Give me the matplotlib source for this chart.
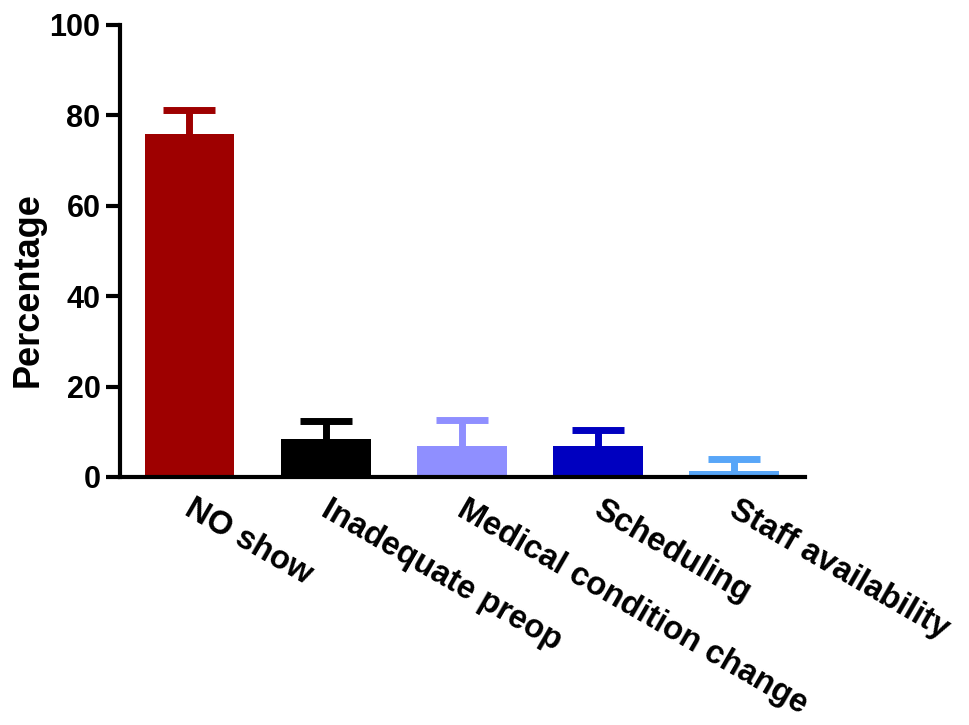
import matplotlib
matplotlib.use('Agg')
import matplotlib.pyplot as plt
import numpy as np

plt.rcParams['font.family'] = ['Liberation Sans', 'DejaVu Sans']
plt.rcParams['font.weight'] = 'bold'

# data
categories = ['NO show', 'Inadequate preop', 'Medical condition change',
              'Scheduling', 'Staff availability']
means = [75.8, 8.4, 6.9, 6.9, 1.4]
upper_err = [5.3, 3.9, 5.8, 3.6, 2.6]
colors = ['#9E0000', '#000000', '#8F8FFF', '#0000C0', '#58A6F8']

fig = plt.figure(figsize=(9.69, 7.25), dpi=100)
ax = fig.add_axes([120 / 969, 1 - 477 / 725, (805 - 120) / 969, (477 - 25) / 725])

x = np.arange(len(categories))
ax.bar(x, means, width=0.66, color=colors, zorder=2)
# upper error bars only
for xi, m, e, c in zip(x, means, upper_err, colors):
    ax.vlines(xi, m, m + e, colors=c, linewidth=5, zorder=1)
    ax.plot([xi], [m + e], marker='_', markersize=37, markeredgewidth=5,
            color=c, zorder=1)

ax.set_xlim(-0.51, 4.52)
ax.set_ylim(0, 100)
ax.set_yticks([0, 20, 40, 60, 80, 100])
ax.set_xticks(x + 0.04)
ax.set_xticklabels(categories, rotation=-30, ha='left', va='top',
                   rotation_mode='anchor', fontsize=23.5, fontweight='bold')
ax.tick_params(axis='x', length=0, pad=12)
ax.tick_params(axis='y', length=10, width=3, labelsize=22, pad=4)
for t in ax.get_yticklabels():
    t.set_fontweight('bold')

ax.spines['top'].set_visible(False)
ax.spines['right'].set_visible(False)
ax.spines['left'].set_linewidth(3)
ax.spines['bottom'].set_linewidth(3)
ax.set_ylabel('Percentage', fontsize=26, fontweight='bold')
ax.yaxis.set_label_coords(-0.108, 0.415)

fig.savefig('out.png', dpi=100)
